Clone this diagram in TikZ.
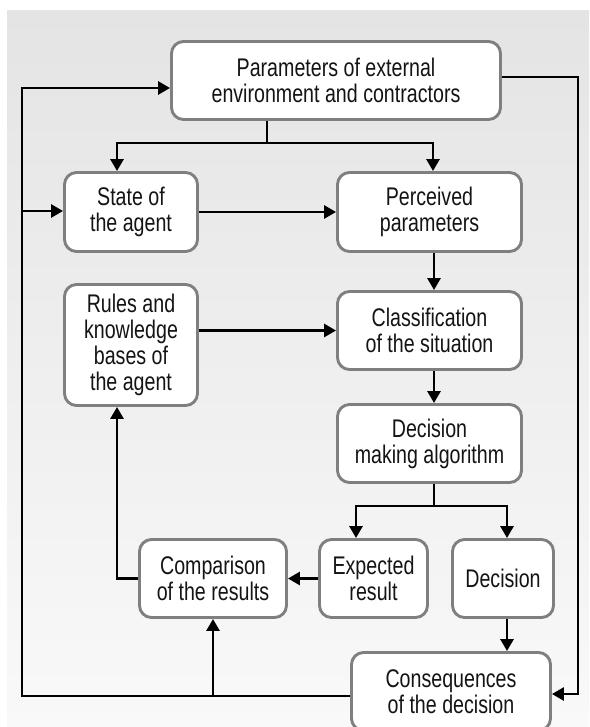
\documentclass[tikz,border=0pt]{standalone}
\usepackage{fontspec}
\setmainfont[FakeStretch=0.77]{Liberation Sans}
\usetikzlibrary{arrows.meta}
\definecolor{boxgray}{HTML}{7F7F7F}
\definecolor{bgtop}{HTML}{E4E4E4}
\definecolor{bgbot}{HTML}{F9F9F9}
\definecolor{txt}{HTML}{141414}
\begin{document}
\begin{tikzpicture}[x=1pt,y=-1pt,
 box/.style={draw=boxgray, line width=2.9pt, fill=white, rounded corners=12pt, align=center, inner sep=0pt, text=txt, font=\fontsize{25.5}{26}\selectfont},
 conn/.style={line width=2.8pt},
 arr/.style={conn, -{Triangle[length=12pt,width=13pt]}}]
\useasboundingbox (0,0) rectangle (589,727);
\shade[top color=bgtop, bottom color=bgbot] (7,11) rectangle (589,727);
\begin{scope}
\clip (0,0) rectangle (589,727);
\node[box, minimum width=329, minimum height=78] (top) at (336,80.5) {Parameters of external\\environment and contractors};
\node[box, minimum width=133, minimum height=79] (state) at (131,212) {State of\\the agent};
\node[box, minimum width=184, minimum height=79] (perc) at (429.5,212) {Perceived\\parameters};
\node[box, minimum width=133, minimum height=121] (rules) at (131,345) {Rules and\\knowledge\\bases of\\the agent};
\node[box, minimum width=184, minimum height=78] (class) at (429.5,330.5) {Classification\\of the situation};
\node[box, minimum width=184, minimum height=78] (dma) at (429.5,443.5) {Decision\\making algorithm};
\node[box, minimum width=147, minimum height=78] (comp) at (213,578.5) {Comparison\\of the results};
\node[box, minimum width=108, minimum height=78] (exp) at (373.5,578.5) {Expected\\result};
\node[box, minimum width=101, minimum height=78] (dec) at (503,578.5) {Decision};
\node[box, minimum width=199, minimum height=78] (cons) at (451,691.5) {Consequences\\of the decision};

\coordinate (L1) at (22,88);
\coordinate (L2) at (22,211);
\coordinate (L3) at (22,696);
\coordinate (B1) at (213,696);
\coordinate (R1) at (578,77);
\coordinate (R2) at (578,694);
\coordinate (S1) at (267,143);
\coordinate (S2) at (117,143);
\coordinate (S3) at (433,143);
\coordinate (D1) at (434,506);
\coordinate (D2) at (356,506);
\coordinate (D3) at (507,506);
\coordinate (C1) at (117,579);

\draw[arr] (cons.west |- L3) -- (L3) -- (L1) -- (top.west |- L1);
\draw[arr] (L2) -- (state.west |- L2);
\draw[arr] (B1) -- (comp.south -| B1);
\draw[arr] (top.east |- R1) -- (R1) -- (R2) -- (cons.east |- R2);
\draw[conn] (top.south -| S1) -- (S1);
\draw[arr] (S1) -- (S2) -- (state.north -| S2);
\draw[arr] (S1) -- (S3) -- (perc.north -| S3);
\draw[arr] (state.east) -- (perc.west);
\draw[arr] (perc.south -| D1) -- (class.north -| D1);
\draw[arr] (rules.east |- class.west) -- (class.west);
\draw[arr] (class.south -| D1) -- (dma.north -| D1);
\draw[conn] (dma.south -| D1) -- (D1);
\draw[arr] (D1) -- (D2) -- (exp.north -| D2);
\draw[arr] (D1) -- (D3) -- (dec.north -| D3);
\draw[arr] (exp.west) -- (comp.east);
\draw[arr] (comp.west) -- (comp.west -| C1) -- (rules.south -| C1);
\draw[arr] (dec.south -| D3) -- (cons.north -| D3);
\end{scope}
\end{tikzpicture}
\end{document}
